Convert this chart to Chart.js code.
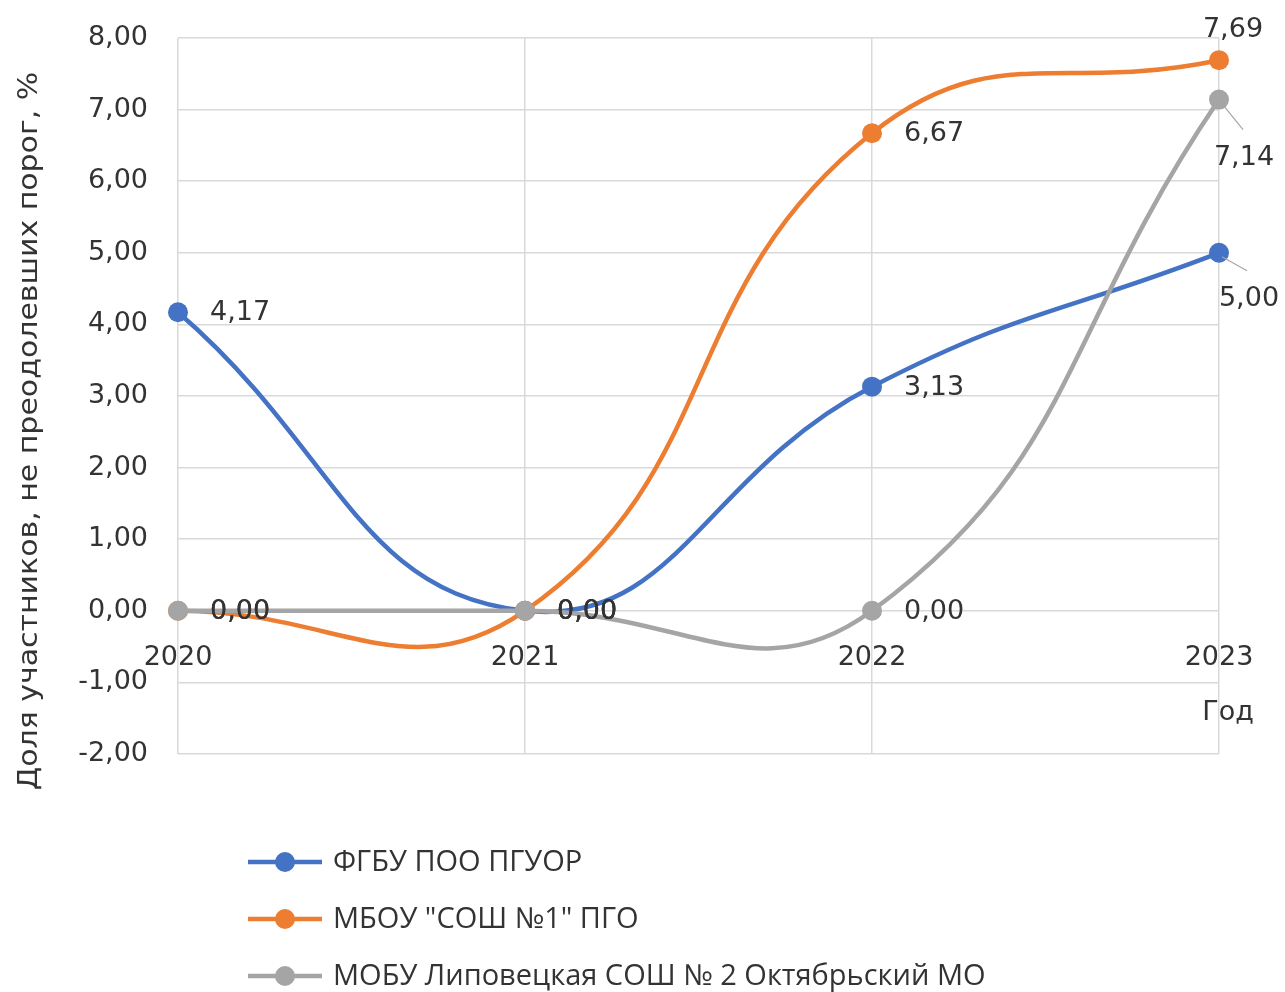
<!DOCTYPE html>
<html><head><meta charset="utf-8">
<script src="https://cdn.jsdelivr.net/npm/chart.js@4"></script>
<style>html,body{margin:0;padding:0;background:#fff}#wrap{width:1285px;height:992px}</style>
</head><body><div id="wrap"><canvas id="c" width="1285" height="992"></canvas></div>
<script>
const categories = ['2020', '2021', '2022', '2023'];
const seriesNames = ['ФГБУ ПОО ПГУОР', 'МБОУ "СОШ №1" ПГО', 'МОБУ Липовецкая СОШ № 2 Октябрьский МО'];
const seriesFGBU = [4.17, 0.00, 3.13, 5.00];
const seriesMBOU = [0.00, 0.00, 6.67, 7.69];
const seriesMOBU = [0.00, 0.00, 0.00, 7.14];
const yMin = -2, yMax = 8, yStep = 1;
const yAxisTitle = 'Доля участников, не преодолевших порог, %';
const xAxisTitle = 'Год';
const colors = ['#4472C4', '#ED7D31', '#A5A5A5'];
// label style per point: 'right' beside the marker, 'above', or 'leaderN' = below-right with a leader line
const labelPlacement = [
  ['right', 'right', 'right', 'leaderShort'],
  ['right', 'right', 'right', 'above'],
  ['right', 'right', 'right', 'leaderLong']
];

const FONT = '"DejaVu Sans", sans-serif';
const LEGEND_FONT = '29px "Open Sans", "Noto Sans", sans-serif';
const TXT = '#333333';
const fmt = v => v.toFixed(2).replace('.', ',');

const seriesData = [seriesFGBU, seriesMBOU, seriesMOBU];

const leaderStyles = {
  leaderShort: { lx: 28, ly: 18, tx: 30, ty: 46 },
  leaderLong: { lx: 24, ly: 30, tx: 25, ty: 58 }
};

const customDraw = {
  id: 'customDraw',
  afterDatasetsDraw(chart) {
    const ctx = chart.ctx;
    ctx.save();
    ctx.font = '27px ' + FONT;
    ctx.fillStyle = TXT;
    chart.data.datasets.forEach((ds, i) => {
      const meta = chart.getDatasetMeta(i);
      meta.data.forEach((pt, j) => {
        const txt = fmt(ds.data[j]);
        const p = labelPlacement[i][j];
        if (p === 'right') {
          ctx.textAlign = 'left'; ctx.textBaseline = 'middle';
          ctx.fillText(txt, pt.x + 32, pt.y + 1);
        } else if (p === 'above') {
          ctx.textAlign = 'center'; ctx.textBaseline = 'middle';
          ctx.fillText(txt, pt.x + 14, pt.y - 30);
        } else if (leaderStyles[p]) {
          const L = leaderStyles[p];
          ctx.strokeStyle = '#A6A6A6'; ctx.lineWidth = 1.2;
          ctx.beginPath(); ctx.moveTo(pt.x + 3, pt.y + 4); ctx.lineTo(pt.x + L.lx, pt.y + L.ly); ctx.stroke();
          ctx.textAlign = 'center'; ctx.textBaseline = 'middle';
          ctx.fillText(txt, pt.x + L.tx, pt.y + L.ty);
        }
      });
    });
    ctx.restore();
  },
  afterDraw(chart) {
    const ctx = chart.ctx;
    const ca = chart.chartArea;
    ctx.save();
    ctx.fillStyle = TXT;
    ctx.font = '27px ' + FONT;
    // y axis title
    ctx.save();
    ctx.translate(30, 431);
    ctx.rotate(-Math.PI / 2);
    ctx.scale(1.11, 1);
    ctx.textAlign = 'center'; ctx.textBaseline = 'middle';
    ctx.fillText(yAxisTitle, 0, 0);
    ctx.restore();
    // x axis title
    ctx.textAlign = 'center'; ctx.textBaseline = 'middle';
    ctx.fillText(xAxisTitle, ca.right + 9, 713);
    // legend
    const rows = [862, 919, 976];
    ctx.font = LEGEND_FONT;
    chart.data.datasets.forEach((ds, i) => {
      const y = rows[i];
      ctx.strokeStyle = ds.borderColor; ctx.lineWidth = 4.5;
      ctx.beginPath(); ctx.moveTo(248, y); ctx.lineTo(322, y); ctx.stroke();
      ctx.fillStyle = ds.borderColor;
      ctx.beginPath(); ctx.arc(285, y, 10, 0, Math.PI * 2); ctx.fill();
      ctx.fillStyle = TXT;
      ctx.textAlign = 'left'; ctx.textBaseline = 'middle';
      ctx.fillText(ds.label, 333, y + 1);
    });
    ctx.restore();
  }
};

const datasets = seriesData.map((d, i) => ({
  label: seriesNames[i],
  data: d,
  borderColor: colors[i],
  backgroundColor: colors[i],
  borderWidth: 4.5,
  pointRadius: 10,
  pointHoverRadius: 10,
  pointBorderWidth: 0,
  tension: 0.46,
  order: 2 - i,
  clip: false
}));

new Chart(document.getElementById('c'), {
  type: 'line',
  data: { labels: categories, datasets },
  plugins: [customDraw],
  options: {
    responsive: false,
    animation: false,
    events: [],
    layout: { padding: { top: 38, right: 66, bottom: 238, left: 0 } },
    plugins: { legend: { display: false }, tooltip: { enabled: false } },
    scales: {
      x: {
        type: 'category',
        offset: false,
        position: { y: 0 },
        afterFit(s) { s.paddingTop = 0; s.paddingBottom = 0; s.paddingLeft = 0; s.paddingRight = 0; },
        grid: { color: '#D9D9D9', lineWidth: 1.5, drawTicks: false },
        border: { display: false },
        ticks: { color: TXT, font: { family: FONT, size: 27 }, padding: 31, maxRotation: 0 }
      },
      y: {
        min: yMin, max: yMax,
        afterFit(s) { s.width = 178; s.paddingTop = 0; s.paddingBottom = 0; },
        grid: { color: '#D9D9D9', lineWidth: 1.5, drawTicks: false },
        border: { display: false },
        ticks: { stepSize: yStep, color: TXT, font: { family: FONT, size: 27 }, padding: 30, callback: v => fmt(v) }
      }
    }
  }
});
</script>
</body></html>
